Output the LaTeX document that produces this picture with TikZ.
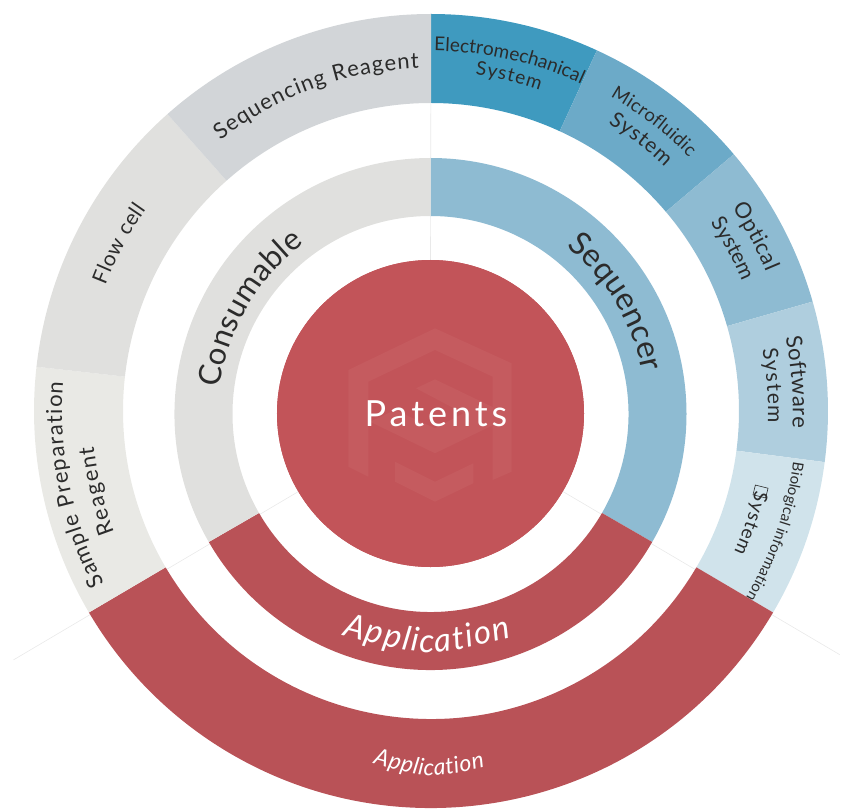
\documentclass[tikz,border=0pt]{standalone}
\usepackage{fontspec}
\setmainfont{Lato}
\newfontfamily\patentsfont[LetterSpace=11]{Lato}
\usetikzlibrary{decorations.text}
\definecolor{coreRed}{HTML}{C25459}
\definecolor{markRed}{HTML}{C55B5F}
\definecolor{appRed}{HTML}{B95257}
\definecolor{seqBlue}{HTML}{8EBBD2}
\definecolor{elecBlue}{HTML}{3F9ABF}
\definecolor{microBlue}{HTML}{6CAAC8}
\definecolor{softBlue}{HTML}{AFCEDE}
\definecolor{bioBlue}{HTML}{D0E3EB}
\definecolor{conGrey}{HTML}{E0E0DE}
\definecolor{reagGrey}{HTML}{D2D5D8}
\definecolor{prepGrey}{HTML}{E9E9E5}
\definecolor{hairGrey}{HTML}{E9E9E9}
\definecolor{labelInk}{HTML}{2B2B2B}
\tikzset{
	hairline/.style={draw=hairGrey, line width=.6pt},
	watermark/.style={fill=markRed},
	textpath/.style={decorate, decoration={text along path, text align={fit to path}, text={#1}}}
}
\newcommand{\ringseg}[6]{
	\fill[#1, shift={(#2)}] (#3:#5) arc[start angle=#3, end angle=#4, radius=#5]
		-- (#4:#6) arc[start angle=#4, end angle=#3, radius=#6] -- cycle;
}
\newcommand{\ringlabel}[6]{
	\path[shift={(#1)}, textpath={|\fontsize{#5}{#5}\selectfont\color{labelInk}|#6}]
		(#3:#2) arc[start angle=#3, end angle=#4, radius=#2];
}
\begin{document}
\begin{tikzpicture}[x=1pt, y=1pt]
	\useasboundingbox (-431,-397) rectangle (411,411);

	\coordinate (outer) at (0,0);
	\coordinate (mid) at (-0.5,-3);
	\coordinate (hairtop) at (0,397);
	\coordinate (hairleft) at (210.8:486);
	\coordinate (hairright) at (-30.8:476);

	\node (core) [circle, fill=coreRed, inner sep=0pt, outer sep=0pt, minimum size=307pt] at (-0.5,-2.5) {};
	\draw[hairline] (hairtop) -- (core.north);
	\draw[hairline] (hairleft) -- (core);
	\draw[hairline] (hairright) -- (core);
	\node (core) [circle, fill=coreRed, inner sep=0pt, outer sep=0pt, minimum size=307pt] at (-0.5,-2.5) {};

	\ringseg{elecBlue}{outer}{90}{65.3}{397}{308}
	\ringseg{microBlue}{outer}{65.3}{40.3}{397}{308}
	\ringseg{seqBlue}{outer}{40.3}{16}{397}{308}
	\ringseg{softBlue}{outer}{16}{-7.4}{397}{308}
	\ringseg{bioBlue}{outer}{-7.4}{-30.5}{397}{308}
	\ringseg{appRed}{outer}{-30.5}{-149.5}{397}{308}
	\ringseg{prepGrey}{outer}{210.5}{173.6}{397}{308}
	\ringseg{conGrey}{outer}{173.6}{131.6}{397}{308}
	\ringseg{reagGrey}{outer}{131.6}{90}{397}{308}

	\ringseg{seqBlue}{mid}{90}{-30}{256}{198}
	\ringseg{appRed}{mid}{-30}{-150}{256}{198}
	\ringseg{conGrey}{mid}{210}{90}{256}{198}

	\fill[watermark] (4,82.7) -- (80.7,47.7) -- (80.7,-60.7) -- (61.7,-69) -- (61.7,34.3) -- (4,61)
		-- (-62.7,29.3) -- (-62.7,-65.7) -- (-82.7,-55.7) -- (-82.7,41) -- cycle;
	\fill[watermark] (-15,22.7) -- (4,31.7) -- (62.3,3.7) -- (62.3,-14) -- (4,-42.3) -- (-61,-10.7)
		-- (-36,1) -- (4,-17.3) -- (32.3,-2.3) -- cycle;
	\fill[watermark] (-36,-50.7) -- (4,-70.7) -- (42.3,-52.3) -- (42.3,-72.3) -- (4,-90.7) -- (-36,-70.7) -- cycle;

	\node (patents) [text=white, font=\fontsize{36}{36}\selectfont\patentsfont] at (5,-3) {Patents};

	\ringlabel{outer}{360}{89.5}{65.4}{19}{Electromechanical}
	\ringlabel{outer}{339}{82.5}{71.3}{19}{System}
	\ringlabel{outer}{362}{60.3}{44.5}{18.5}{Microfluidic}
	\ringlabel{outer}{338}{58.4}{46.2}{21}{System}
	\ringlabel{outer}{363}{34}{22.5}{22}{Optical}
	\ringlabel{outer}{337}{34}{22.8}{21}{System}
	\ringlabel{outer}{362}{11.7}{-2.7}{22}{Software}
	\ringlabel{outer}{337}{10.6}{-2}{21}{System}
	\ringlabel{outer}{366}{-8}{-30.6}{15}{Biological information}
	\ringlabel{outer}{334}{-13.8}{-24.9}{19}{System}
	\node (glyphbox) [draw=labelInk, line width=.6pt, rotate=-104, inner sep=0pt, minimum width=10pt, minimum height=13pt] at (329.5,-80.5) {};

	\ringlabel{outer}{343}{127.9}{92}{22}{Sequencing Reagent}
	\ringlabel{outer}{349}{158.9}{144.7}{21}{Flow cell}
	\ringlabel{outer}{369}{207.9}{175.5}{22}{Sample Preparation}
	\ringlabel{outer}{339}{201}{186}{22}{Reagent}

	\ringlabel{mid}{212}{172.9}{126.6}{31}{Consumable}
	\ringlabel{mid}{216}{50.9}{11.3}{32}{Sequencer}

	\coordinate (appmidA) at (-89,-224);
	\coordinate (appmidB) at (-4,-246.5);
	\coordinate (appmidC) at (81,-227);
	\path[textpath={|\fontsize{33}{33}\selectfont\itshape\color{white}|Application}]
		(appmidA) .. controls (appmidB) .. (appmidC);
	\coordinate (applowA) at (-58,-352);
	\coordinate (applowB) at (-2,-368);
	\coordinate (applowC) at (54,-356);
	\path[textpath={|\fontsize{23}{23}\selectfont\itshape\color{white}|Application}]
		(applowA) .. controls (applowB) .. (applowC);
\end{tikzpicture}
\end{document}
